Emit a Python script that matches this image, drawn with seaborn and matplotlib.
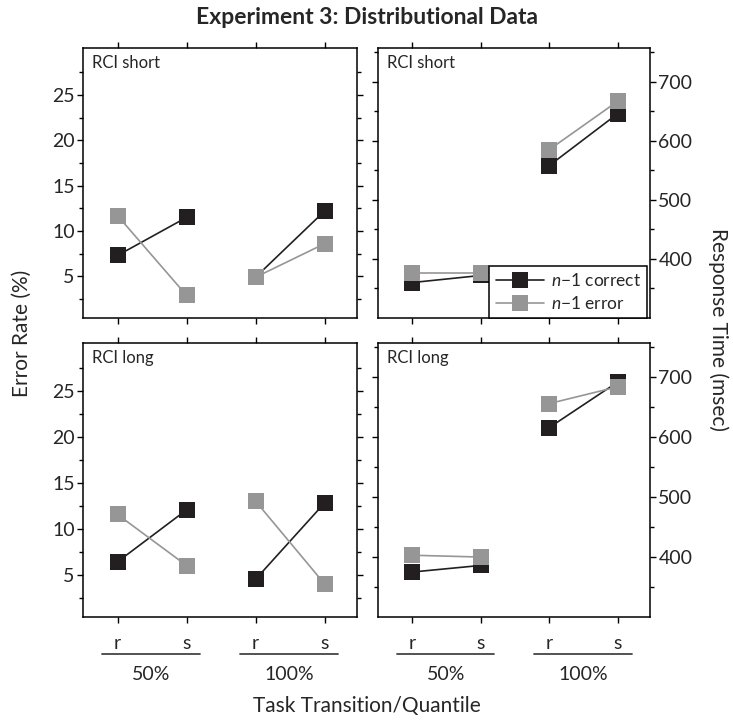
import matplotlib.pyplot as plt
import matplotlib.transforms as mtransforms
from matplotlib.lines import Line2D
import seaborn as sns
import pandas as pd
import numpy as np

sns.set_theme(style='white')
plt.rcParams['font.family'] = ['Lato', 'DejaVu Sans']
plt.rcParams['mathtext.fontset'] = 'custom'
plt.rcParams['mathtext.it'] = 'Lato:italic'
plt.rcParams['mathtext.rm'] = 'Lato'

# x categories
positions = [0, 1, 2, 3]
transitions = ['r', 's', 'r', 's']
quantiles = ['50%', '50%', '100%', '100%']

# error rate (%)
err_short_correct = [7.3, 11.5, 4.9, 12.2]
err_short_error = [11.7, 2.9, 4.9, 8.6]
err_long_correct = [6.4, 12.05, 4.5, 12.8]
err_long_error = [11.55, 6.0, 13.0, 4.0]

# response time (msec)
rt_short_correct = [360, 372, 558, 646]
rt_short_error = [376, 376, 585, 667]
rt_long_correct = [375, 386, 616, 692]
rt_long_error = [403, 400, 656, 684]

BLACK = '#231f20'
GRAY = '#969696'


def make_df(correct, error):
    rows = []
    for prev, vals in [('correct', correct), ('error', error)]:
        for p, q, v in zip(positions, quantiles, vals):
            rows.append({'pos': p, 'quant': q, 'prev': prev, 'val': v})
    return pd.DataFrame(rows)


fig = plt.figure(figsize=(7.33, 7.2), dpi=100)

W, H = 733, 720
def box(x0, x1, ytop, ybot):
    return [x0 / W, 1 - ybot / H, (x1 - x0) / W, (ybot - ytop) / H]

ax_tl = fig.add_axes(box(83, 357, 48, 318))
ax_tr = fig.add_axes(box(378, 650, 48, 318))
ax_bl = fig.add_axes(box(83, 357, 343, 617))
ax_br = fig.add_axes(box(378, 650, 343, 617))

panels = [
    (ax_tl, err_short_correct, err_short_error, 'RCI short', 'err'),
    (ax_tr, rt_short_correct, rt_short_error, 'RCI short', 'rt'),
    (ax_bl, err_long_correct, err_long_error, 'RCI long', 'err'),
    (ax_br, rt_long_correct, rt_long_error, 'RCI long', 'rt'),
]

for ax, corr, err, label, kind in panels:
    df = make_df(corr, err)
    sns.lineplot(data=df, x='pos', y='val', hue='prev', hue_order=['correct', 'error'],
                 palette={'correct': BLACK, 'error': GRAY}, units='quant', estimator=None,
                 marker='s', markersize=11, markeredgewidth=0, linewidth=1.2,
                 legend=False, ax=ax)
    ax.set_xlim(-0.5, 3.47)
    ax.set_xlabel('')
    ax.set_ylabel('')
    for sp in ax.spines.values():
        sp.set_color('black')
        sp.set_linewidth(1.1)
    ax.text(0.033, 0.975, label, transform=ax.transAxes, ha='left', va='top', fontsize=12)
    ax.tick_params(axis='both', which='both', direction='out', color='black', width=1,
                   top=True, bottom=True, left=True, right=True, labelsize=14, pad=2)
    ax.tick_params(axis='both', which='major', length=4)
    ax.tick_params(axis='both', which='minor', length=3)
    if kind == 'err':
        ax.set_ylim(0.4, 30.2)
        ax.set_yticks([5, 10, 15, 20, 25])
        ax.set_yticks(np.arange(2.5, 30, 5), minor=True)
        ax.tick_params(labelleft=True, labelright=False)
    else:
        ax.set_ylim(300, 757)
        ax.set_yticks([400, 500, 600, 700])
        ax.set_yticks([350, 450, 550, 650, 750], minor=True)
        ax.tick_params(labelleft=False, labelright=True)
    ax.set_xticks(positions)
    if ax in (ax_bl, ax_br):
        ax.set_xticklabels(transitions)
        ax.tick_params(axis='x', pad=9)
        trans = mtransforms.blended_transform_factory(ax.transData, ax.transAxes)
        for (a, b), q in [((-0.22, 1.2), '50%'), ((1.78, 3.2), '100%')]:
            ax.add_line(Line2D([a, b], [-0.135, -0.135], transform=trans, clip_on=False,
                               color='#444444', lw=1.3))
            ax.text((a + b) / 2, -0.21, q, transform=trans, ha='center', va='center', fontsize=14)
    else:
        ax.set_xticklabels([])

handles = [Line2D([], [], color=BLACK, marker='s', markersize=11, mew=0, lw=1.2),
           Line2D([], [], color=GRAY, marker='s', markersize=11, mew=0, lw=1.2)]
leg = ax_tr.legend(handles, ['$n$\u22121 correct', '$n$\u22121 error'], loc='lower right',
                   bbox_to_anchor=(0.99, 0.0), borderaxespad=0, frameon=True, fancybox=False,
                   edgecolor='black', framealpha=1, fontsize=12.5, handlelength=2.8,
                   borderpad=0.35, labelspacing=0.35, handletextpad=0.4)
leg.get_frame().set_linewidth(1.1)

fig.text(0.5, 0.975, 'Experiment 3: Distributional Data', ha='center', va='center',
         fontsize=16.5, fontweight='bold')
fig.text(0.03, 0.537, 'Error Rate (%)', rotation=90, ha='center', va='center', fontsize=15)
fig.text(0.98, 0.542, 'Response Time (msec)', rotation=270, ha='center', va='center', fontsize=15)
fig.text(0.5, 0.019, 'Task Transition/Quantile', ha='center', va='center', fontsize=15)

fig.savefig('out.png', dpi=100)
